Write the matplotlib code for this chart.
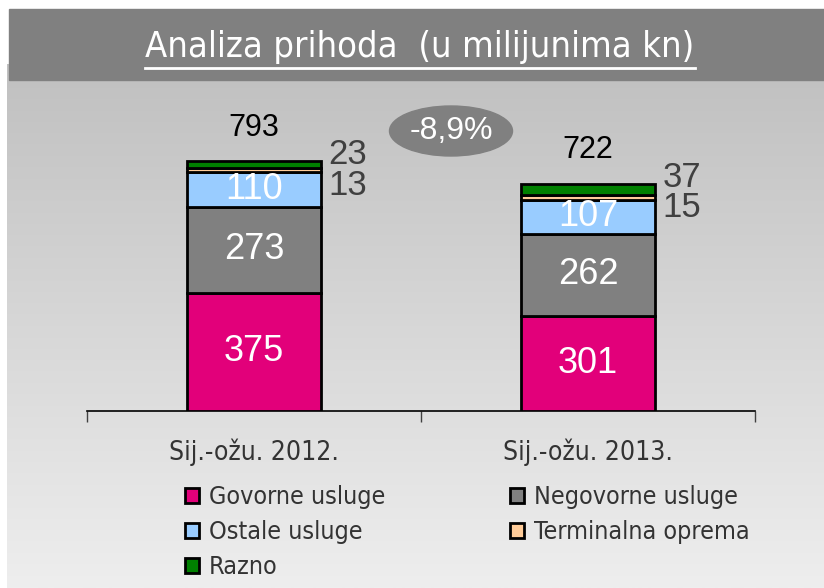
import matplotlib
matplotlib.use("Agg")
import matplotlib.pyplot as plt
from matplotlib import font_manager
import numpy as np
from matplotlib.patches import Ellipse, Rectangle
from matplotlib.lines import Line2D

categories = ["Sij.-ožu. 2012.", "Sij.-ožu. 2013."]
series = ["Govorne usluge", "Negovorne usluge", "Ostale usluge", "Terminalna oprema", "Razno"]
govorne = [375, 301]
negovorne = [273, 262]
ostale = [110, 107]
terminalna = [13, 15]
razno = [23, 37]
totals = [793, 722]
change = "-8,9%"

colors = ["#E2007A", "#808080", "#99CCFF", "#FFCC99", "#008000"]

# pick a condensed face if one is installed
names = {f.name for f in font_manager.fontManager.ttflist}
if "Liberation Sans Narrow" in names:
    NARROW = dict(family=["Liberation Sans Narrow", "DejaVu Sans"])
elif any(f.name == "DejaVu Sans" and "Condensed" in f.fname for f in font_manager.fontManager.ttflist):
    NARROW = dict(family=["DejaVu Sans"], stretch="condensed")
else:
    NARROW = dict(family=["Liberation Sans", "DejaVu Sans"])
arial = ["Liberation Sans", "DejaVu Sans"]

fig = plt.figure(figsize=(8.24, 5.88), dpi=100)
W, H = 824, 588

def fx(px):
    return px / W

def fy(py):
    return 1 - py / H

# background gradient panel
bg = fig.add_axes([fx(7), 0, 1 - fx(7), fy(64)])
grad = np.linspace(192, 238, 256).reshape(-1, 1) / 255.0
bg.imshow(np.dstack([grad, grad, grad]), aspect="auto", extent=[0, 1, 1, 0])
bg.set_axis_off()

# title band
fig.patches.append(Rectangle((fx(9), fy(80)), 1 - fx(9), fy(9) - fy(80),
                             transform=fig.transFigure, color="#808080", zorder=1))
title = fig.text(fx(420), fy(47), "Analiza prihoda  (u milijunima kn)", color="white",
                 fontsize=26, ha="center", va="center", **NARROW)

ax = fig.add_axes([fx(87), fy(411), fx(755) - fx(87), fy(96) - fy(411)])
ax.patch.set_alpha(0)
x = np.arange(len(categories))
data = [govorne, negovorne, ostale, terminalna, razno]
bottom = np.zeros(len(categories))
bars = []
for vals, c, name in zip(data, colors, series):
    bars.append(ax.bar(x, vals, 0.4, bottom=bottom, color=c, edgecolor="black",
                       linewidth=2, label=name, zorder=3))
    bottom += np.array(vals)

ax.set_xlim(-0.5, 1.5)
ax.set_ylim(0, 1000)
for s in ["top", "right", "left"]:
    ax.spines[s].set_visible(False)
ax.spines["bottom"].set_linewidth(1.2)
ax.set_yticks([])
ax.set_xticks([-0.5, 0.5, 1.5])
ax.set_xticklabels([])
ax.tick_params(axis="x", direction="out", length=8, width=1, color="#404040")

# category labels
for i, cat in enumerate(categories):
    ax.text(i, -130, cat, ha="center", va="center", fontsize=19,
            color="#333333", clip_on=False, **NARROW)

# value labels
for i in range(len(categories)):
    base = 0
    for vals in data[:3]:
        ax.text(i, base + vals[i] / 2, str(vals[i]), ha="center", va="center",
                fontsize=26, family=arial, color="white", zorder=5)
        base += vals[i]
    ax.text(i + 0.28, totals[i] + 20, str(razno[i]), ha="center", va="center",
            fontsize=25, family=arial, color="#404040", clip_on=False)
    ax.text(i + 0.28, totals[i] - 77, str(terminalna[i]), ha="center", va="center",
            fontsize=25, family=arial, color="#404040", clip_on=False)
    ax.text(i, totals[i] + 106, str(totals[i]), ha="center", va="center",
            fontsize=22, family=arial, color="black", clip_on=False)

ell = Ellipse((fx(451), fy(131)), fx(123), fy(0) - fy(50), transform=fig.transFigure,
              color="#808080", zorder=2)
fig.patches.append(ell)
fig.text(fx(451), fy(131), change, ha="center", va="center", fontsize=23,
         family=arial, color="white", zorder=3)

order = (0, 2, 4, 1, 3)
leg = fig.legend(handles=[bars[k].patches[0] for k in order],
                 labels=[series[k] for k in order],
                 ncol=2, loc="upper left", bbox_to_anchor=(fx(175), fy(475)),
                 frameon=False, handlelength=0.55, handleheight=0.55, handletextpad=0.4,
                 columnspacing=5.0, labelspacing=0.45, borderaxespad=0,
                 prop=font_manager.FontProperties(size=18, **NARROW))
for t in leg.get_texts():
    t.set_color("#333333")

# underline the title
fig.canvas.draw()
bb = title.get_window_extent().transformed(fig.transFigure.inverted())
fig.lines.append(Line2D([bb.x0, bb.x1], [fy(68), fy(68)], transform=fig.transFigure,
                        color="white", linewidth=2))

fig.savefig("out.png", dpi=100)
